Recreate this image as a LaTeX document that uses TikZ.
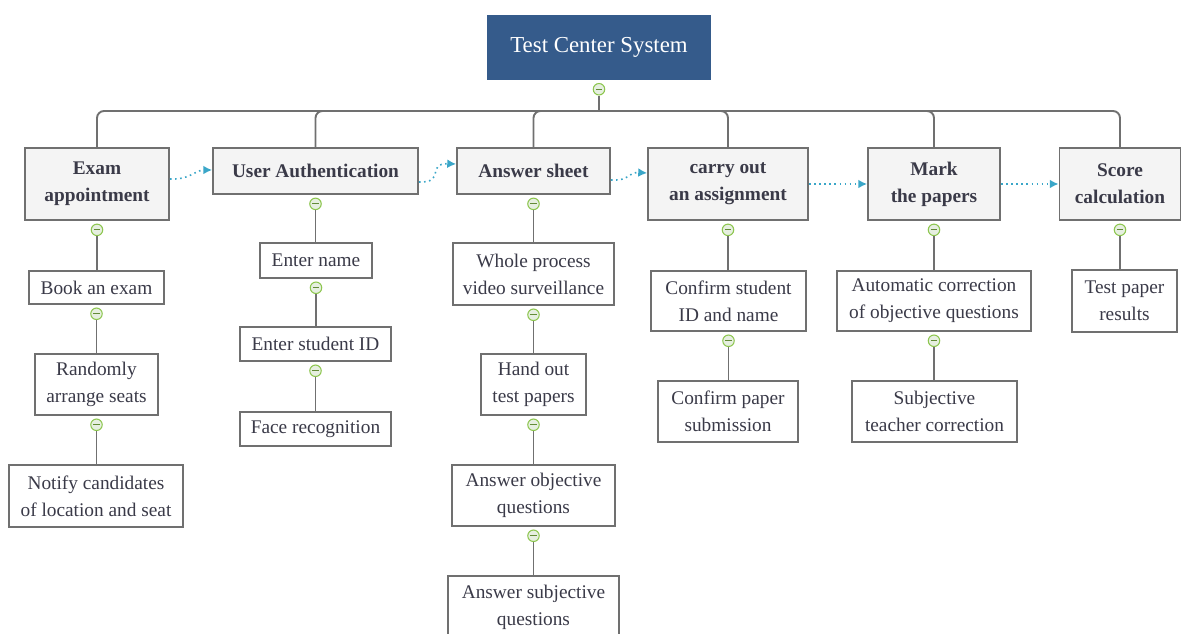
\documentclass[tikz,border=0pt]{standalone}
\usepackage{fontspec}
\setmainfont{Liberation Serif}
\usepackage{xcolor}
\usepackage{tikz}
\usetikzlibrary{arrows.meta,positioning}
\definecolor{rootblue}{HTML}{355B8B}
\definecolor{boxline}{HTML}{707070}
\definecolor{boxfill}{HTML}{F4F4F4}
\definecolor{ink}{HTML}{3A3A48}
\definecolor{toggleline}{HTML}{8DC64F}
\definecolor{togglefill}{HTML}{E6EFE0}
\definecolor{flowteal}{HTML}{3AA6C8}
\tikzset{
  system/.style={rectangle,fill=rootblue,text=white,inner sep=0pt,font=\fontsize{13}{16}\selectfont},
  phase/.style={rectangle,draw=boxline,line width=1.1pt,fill=boxfill,text=ink,align=center,inner sep=0pt,
    font=\bfseries\fontsize{11}{15.3}\selectfont},
  task/.style={rectangle,draw=boxline,line width=1pt,fill=white,text=ink,align=center,inner sep=0pt,
    font=\fontsize{11}{15.3}\selectfont},
  toggle/.style={circle,draw=toggleline,fill=togglefill,line width=0.6pt,minimum size=0.23cm,inner sep=0pt,anchor=north,
    path picture={\draw[toggleline!70!black,line width=0.7pt] ([xshift=-1.8pt]path picture bounding box.center) -- ([xshift=1.8pt]path picture bounding box.center);}},
  link/.style={draw=boxline,line width=1.1pt,rounded corners=4pt},
  flow/.style={draw=flowteal,dotted,line width=0.9pt,-{Latex[length=5pt,width=5pt]}}
}

\begin{document}
\begin{tikzpicture}[x=0.02cm,y=-0.02cm]
  \useasboundingbox (0,0) rectangle (1181,634);
  \node[system,minimum width=4.48cm,minimum height=1.3cm] (root) at (599,47.5) {Test Center System};
  % phases
  \node[phase,minimum width=2.88cm,minimum height=1.44cm] (ea) at (97,184) {Exam\\appointment};
  \node[phase,minimum width=4.1cm,minimum height=0.92cm] (ua) at (315.5,171) {User Authentication};
  \node[phase,minimum width=3.06cm,minimum height=0.92cm] (as) at (533.5,171) {Answer sheet};
  \node[phase,minimum width=3.2cm,minimum height=1.44cm] (ca) at (728,184) {carry out\\an assignment};
  \node[phase,minimum width=2.64cm,minimum height=1.44cm] (mp) at (934,184) {Mark\\the papers};
  \node[phase,minimum width=2.42cm,minimum height=1.44cm] (sc) at (1120,184) {Score\\calculation};
  % tasks
  \node[task,minimum width=2.7cm,minimum height=0.66cm] (ea1) at (96.5,287.5) {Book an exam};
  \node[task,minimum width=2.46cm,minimum height=1.22cm] (ea2) at (96.5,384.5) {Randomly\\arrange seats};
  \node[task,minimum width=3.48cm,minimum height=1.24cm] (ea3) at (96,496) {Notify candidates\\of location and seat};
  \node[task,minimum width=2.24cm,minimum height=0.7cm] (ua1) at (316,260.5) {Enter name};
  \node[task,minimum width=3.02cm,minimum height=0.68cm] (ua2) at (315.5,344) {Enter student ID};
  \node[task,minimum width=3.02cm,minimum height=0.68cm] (ua3) at (315.5,429) {Face recognition};
  \node[task,minimum width=3.22cm,minimum height=1.24cm] (as1) at (533.5,274) {Whole process\\video surveillance};
  \node[task,minimum width=2.1cm,minimum height=1.22cm] (as2) at (533.5,384.5) {Hand out\\test papers};
  \node[task,minimum width=3.26cm,minimum height=1.22cm] (as3) at (533.5,495.5) {Answer objective\\questions};
  \node[task,minimum width=3.42cm,minimum height=1.24cm] (as4) at (533.5,607) {Answer subjective\\questions};
  \node[task,minimum width=3.1cm,minimum height=1.2cm] (ca1) at (728.5,301) {Confirm student\\ID and name};
  \node[task,minimum width=2.8cm,minimum height=1.22cm] (ca2) at (728,411.5) {Confirm paper\\submission};
  \node[task,minimum width=3.88cm,minimum height=1.2cm] (mp1) at (934,301) {Automatic correction\\of objective questions};
  \node[task,minimum width=3.3cm,minimum height=1.22cm] (mp2) at (934.5,411.5) {Subjective\\teacher correction};
  \node[task,minimum width=2.1cm,minimum height=1.24cm] (sc1) at (1124.5,301) {Test paper\\results};
  \foreach \p in {root,ea,ea1,ea2,ua,ua1,ua2,as,as1,as2,as3,ca,ca1,mp,mp1,sc}
    \node[toggle] (t-\p) at ([yshift=-1.5pt]\p.south) {};
  \coordinate (bus) at (599,111);
  \draw[link] (t-root) -- (bus);
  \foreach \p in {ea,ua,as,ca,mp,sc}
    \draw[link] (bus) -| (\p.north);
  \foreach \a/\b in {ea/ea1,ea1/ea2,ea2/ea3,ua/ua1,ua1/ua2,ua2/ua3,as/as1,as1/as2,as2/as3,as3/as4,ca/ca1,ca1/ca2,mp/mp1,mp1/mp2,sc/sc1}
    \draw[link] (t-\a) -- (t-\a |- \b.north);
  \draw[flow] ([yshift=0.1cm]ea.east) .. controls +(20,1) and +(-17,0) .. ([yshift=0.02cm]ua.west);
  \draw[flow] ([yshift=-0.22cm]ua.east) .. controls +(27,1) and +(-30,-1) .. ([yshift=0.14cm]as.west);
  \draw[flow] ([yshift=-0.18cm]as.east) .. controls +(20,1) and +(-20,-1) .. ([yshift=0.22cm]ca.west);
  \draw[flow] (ca.east) -- (mp.west);
  \draw[flow] (mp.east) -- (sc.west);
\end{tikzpicture}
\end{document}
